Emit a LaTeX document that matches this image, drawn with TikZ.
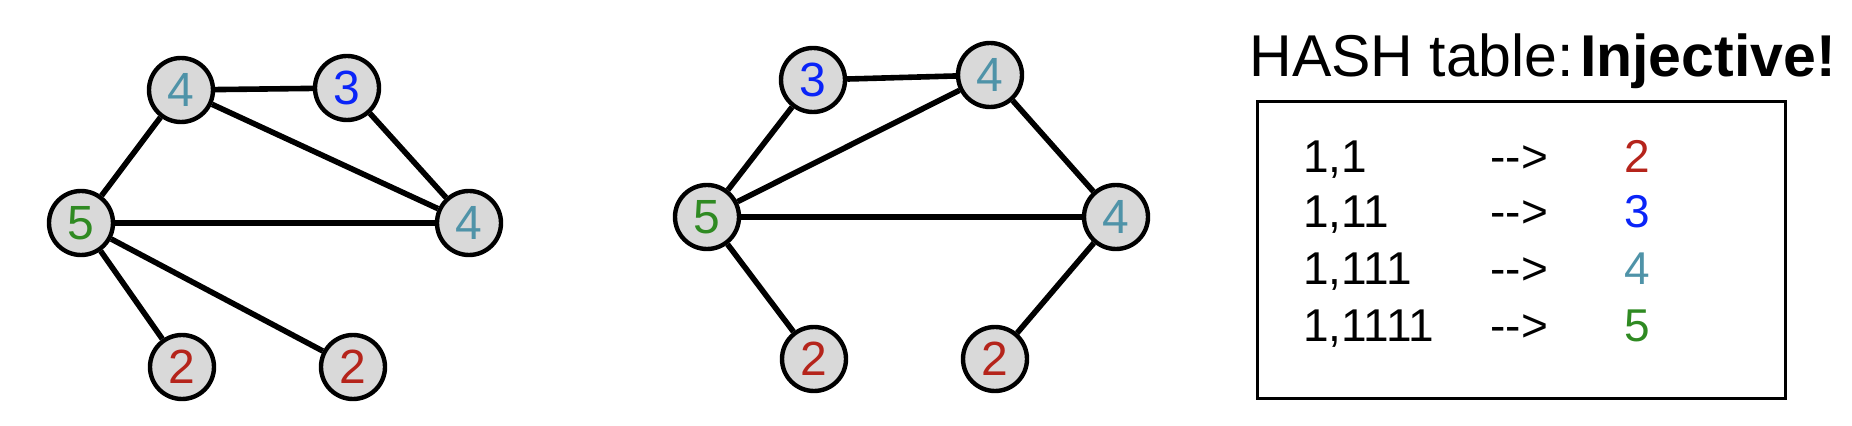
\documentclass[tikz,border=0pt]{standalone}
\usepackage{fontspec}
\setmainfont{Liberation Sans}
\definecolor{ctwo}{HTML}{B5241B}
\definecolor{cthree}{HTML}{0A24F8}
\definecolor{cfour}{HTML}{4F93A8}
\definecolor{cfive}{HTML}{2F8A22}
\definecolor{nodefill}{HTML}{D9D9D9}
\tikzset{
  vert/.style={circle, draw=black, line width=2.2pt, fill=nodefill, minimum size=32pt, inner sep=0pt, font=\fontsize{24}{24}\selectfont},
  edge/.style={line width=2.8pt, black},
  row/.style={anchor=base west, inner sep=0pt, font=\fontsize{23}{23}\selectfont}
}
\begin{document}
\begin{tikzpicture}[x=0.5pt, y=-0.5pt]
\useasboundingbox (0,0) rectangle (1852,426);
% left graph
\node[vert, text=cfour]  (a4t) at (181,90)  {4};
\node[vert, text=cthree] (a3)  at (347,88)  {3};
\node[vert, text=cfive]  (a5)  at (81,223)  {5};
\node[vert, text=cfour]  (a4r) at (469,223) {4};
\node[vert, text=ctwo]   (a2a) at (182,367) {2};
\node[vert, text=ctwo]   (a2b) at (353,367) {2};
\draw[edge] (a4t) -- (a3);
\draw[edge] (a4t) -- (a5);
\draw[edge] (a4t) -- (a4r);
\draw[edge] (a3) -- (a4r);
\draw[edge] (a5) -- (a4r);
\draw[edge] (a5) -- (a2a);
\draw[edge] (a5) -- (a2b);
% middle graph
\node[vert, text=cthree] (b3)  at (813,80)  {3};
\node[vert, text=cfour]  (b4t) at (990,75)  {4};
\node[vert, text=cfive]  (b5)  at (707,217) {5};
\node[vert, text=cfour]  (b4r) at (1116,217) {4};
\node[vert, text=ctwo]   (b2a) at (814,359) {2};
\node[vert, text=ctwo]   (b2b) at (995,359) {2};
\draw[edge] (b3) -- (b4t);
\draw[edge] (b3) -- (b5);
\draw[edge] (b5) -- (b4t);
\draw[edge] (b4t) -- (b4r);
\draw[edge] (b5) -- (b4r);
\draw[edge] (b5) -- (b2a);
\draw[edge] (b4r) -- (b2b);
% hash table
\node[anchor=base west, inner sep=0pt, font=\fontsize{29.5}{29.5}\selectfont] (title) at (1249,77) {HASH table:\hspace{3pt}\textbf{Injective!}};
\node[draw=black, line width=1.5pt, minimum width=264pt, minimum height=148.5pt, inner sep=0pt, anchor=north west] (box) at (1256,100) {};
\node[row] (k1) at (1303,173) {1,1};
\node[row] (k2) at (1303,228) {1,11};
\node[row] (k3) at (1303,285) {1,111};
\node[row] (k4) at (1303,342) {1,1111};
\node[row] (r1) at (1490,173) {{-}{-}>};
\node[row] (r2) at (1490,228) {{-}{-}>};
\node[row] (r3) at (1490,285) {{-}{-}>};
\node[row] (r4) at (1490,342) {{-}{-}>};
\node[row, text=ctwo]   (v1) at (1624,173) {2};
\node[row, text=cthree] (v2) at (1624,228) {3};
\node[row, text=cfour]  (v3) at (1624,285) {4};
\node[row, text=cfive]  (v4) at (1624,342) {5};
\end{tikzpicture}
\end{document}
